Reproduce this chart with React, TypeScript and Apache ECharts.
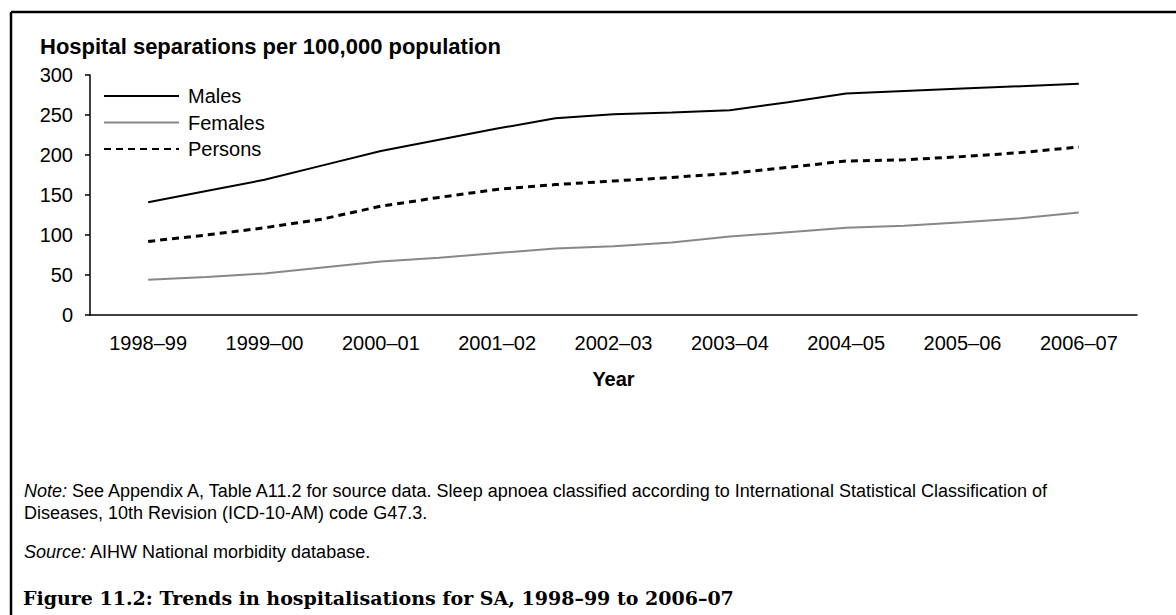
import React, { useEffect, useRef } from "react";
import * as echarts from "echarts";

const categories = ["1998–99", "1999–00", "2000–01", "2001–02", "2002–03", "2003–04", "2004–05", "2005–06", "2006–07"];
// positions along the year axis (0 = 1998–99), half-year steps
const positions = [0, 0.5, 1, 1.5, 2, 2.5, 3, 3.5, 4, 4.5, 5, 5.5, 6, 6.5, 7, 7.5, 8];
const males = [141, 155, 169, 187, 205, 219, 233, 246, 251, 253, 256, 266, 277, 280, 283, 286, 289];
const females = [44, 47.5, 52, 59.5, 67, 71.5, 77.5, 83, 86, 90.5, 98, 103.5, 109, 111.5, 116, 121, 128];
const persons = [92, 100, 109, 120, 136, 147, 157, 163, 167.5, 172, 177, 184.5, 192.5, 194, 198, 203, 210];
const yTicks = { min: 0, max: 300, interval: 50 };

const pair = (vals: number[]) => vals.map((v, i) => [positions[i], v]);

export default function App() {
  const ref = useRef<HTMLDivElement>(null);
  useEffect(() => {
    if (!ref.current) return;
    const chart = echarts.init(ref.current, null, { renderer: "svg" });
    const font = "'Liberation Sans', Arial, sans-serif";
    chart.setOption({
      animation: false,
      backgroundColor: "#ffffff",
      grid: { left: 90, right: 39, top: 75, bottom: 300, containLabel: false },
      legend: {
        orient: "vertical",
        left: 103,
        top: 86,
        padding: 0,
        itemWidth: 75,
        itemHeight: 14,
        itemGap: 6.5,
        itemStyle: { opacity: 0 },
        textStyle: { fontFamily: font, fontSize: 20, color: "#000", lineHeight: 20, padding: [0, 0, 0, 4] },
        data: ["Males", "Females", "Persons"],
      },
      xAxis: [
        {
          type: "category",
          data: categories,
          boundaryGap: true,
          axisLine: { show: true, lineStyle: { color: "#000", width: 1.5 } },
          axisTick: { show: false },
          axisLabel: { color: "#000", fontFamily: font, fontSize: 20, margin: 18, interval: 0 },
          name: "Year",
          nameLocation: "middle",
          nameGap: 54,
          nameTextStyle: { color: "#000", fontFamily: font, fontSize: 20, fontWeight: "bold" },
          splitLine: { show: false },
        },
        { type: "value", min: -0.5, max: 8.5, show: false },
      ],
      yAxis: {
        type: "value",
        min: yTicks.min,
        max: yTicks.max,
        interval: yTicks.interval,
        axisLine: { show: true, onZero: false, lineStyle: { color: "#000", width: 1.5 } },
        axisTick: { show: true, length: 5, lineStyle: { color: "#000", width: 1.5 } },
        axisLabel: { color: "#000", fontFamily: font, fontSize: 20, margin: 17 },
        splitLine: { show: false },
      },
      series: [
        {
          name: "Males",
          type: "line",
          xAxisIndex: 1,
          data: pair(males),
          symbol: "none",
          lineStyle: { color: "#000", width: 2 },
          itemStyle: { color: "#000" },
        },
        {
          name: "Females",
          type: "line",
          xAxisIndex: 1,
          data: pair(females),
          symbol: "none",
          lineStyle: { color: "#888888", width: 2 },
          itemStyle: { color: "#888888" },
        },
        {
          name: "Persons",
          type: "line",
          xAxisIndex: 1,
          data: pair(persons),
          symbol: "none",
          lineStyle: { color: "#000", width: 3, type: [7, 5] },
          itemStyle: { color: "#000" },
        },
      ],
      graphic: [
        { type: "line", shape: { x1: 11, y1: 12, x2: 1176, y2: 12 }, style: { stroke: "#000", lineWidth: 2.5 } },
        { type: "line", shape: { x1: 11, y1: 12, x2: 11, y2: 615 }, style: { stroke: "#000", lineWidth: 2.5 } },
        {
          type: "text",
          left: 40,
          top: 35,
          style: { text: "Hospital separations per 100,000 population", fontFamily: font, fontSize: 22, fontWeight: "bold", fill: "#000" },
        },
        {
          type: "text",
          left: 24,
          top: 482,
          style: {
            text: "{i|Note:} See Appendix A, Table A11.2 for source data. Sleep apnoea classified according to International Statistical Classification of",
            fontFamily: font,
            fontSize: 18,
            fill: "#000",
            rich: { i: { fontStyle: "italic", fontFamily: font, fontSize: 18, fill: "#000" } },
          },
        },
        {
          type: "text",
          left: 24,
          top: 504,
          style: { text: "Diseases, 10th Revision (ICD-10-AM) code G47.3.", fontFamily: font, fontSize: 18, fill: "#000" },
        },
        {
          type: "text",
          left: 24,
          top: 543,
          style: {
            text: "{i|Source:} AIHW National morbidity database.",
            fontFamily: font,
            fontSize: 18,
            fill: "#000",
            rich: { i: { fontStyle: "italic", fontFamily: font, fontSize: 18, fill: "#000" } },
          },
        },
        {
          type: "text",
          left: 23,
          top: 588,
          style: {
            text: "Figure 11.2: Trends in hospitalisations for SA, 1998–99 to 2006–07",
            fontFamily: "'DejaVu Serif', 'Liberation Serif', serif",
            fontSize: 19,
            fontWeight: "bold",
            fill: "#000",
          },
        },
      ],
    });
    return () => chart.dispose();
  }, []);
  return <div ref={ref} style={{ position: "absolute", left: 0, top: 0, width: 1176, height: 615 }} />;
}
